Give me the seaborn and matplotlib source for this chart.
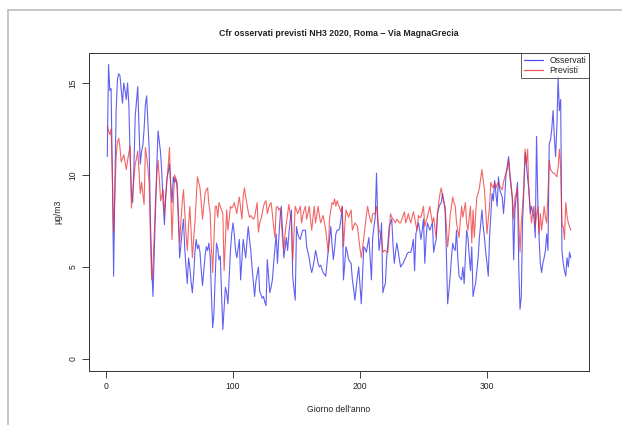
import numpy as np
import pandas as pd
import matplotlib
matplotlib.use("Agg")
import matplotlib.pyplot as plt
from matplotlib.lines import Line2D
import seaborn as sns

# ---- data ----
osservati = [
    11.0, 16.0, 14.6, 14.7, 10.0, 4.5, 9.5, 13.5, 15.2, 15.5,
    15.4, 14.6, 13.9, 15.0, 14.6, 14.1, 15.0, 13.8, 11.0, 9.0,
    8.5, 10.5, 13.2, 14.0, 14.8, 12.5, 10.6, 11.3, 11.6, 12.5,
    13.8, 14.3, 12.8, 11.4, 7.5, 5.0, 3.4, 5.8, 8.1, 10.5,
    12.4, 11.8, 11.2, 10.0, 8.5, 7.3, 8.8, 9.8, 10.2, 10.6,
    9.5, 8.5, 9.9, 9.6, 9.8, 9.3, 7.5, 5.5, 6.2, 7.0,
    7.6, 6.0, 5.0, 4.1, 5.5, 5.0, 4.2, 3.6, 4.5, 5.8,
    6.5, 6.0, 6.2, 5.8, 4.8, 4.0, 4.8, 5.6, 6.1, 5.9,
    6.3, 5.6, 3.5, 1.7, 2.5, 4.5, 6.3, 6.0, 5.4, 5.6,
    3.5, 1.6, 2.8, 3.9, 3.6, 3.0, 4.5, 5.9, 6.8, 7.4,
    6.8, 5.9, 5.5, 6.0, 6.5, 4.3, 5.4, 6.5, 6.0, 5.5,
    6.4, 7.2, 6.5, 5.9, 5.0, 4.2, 3.4, 4.2, 4.6, 5.0,
    3.7, 3.5, 3.3, 3.4, 3.1, 2.9, 5.4, 4.5, 3.6, 3.9,
    4.3, 5.2, 6.0, 6.8, 5.2, 6.5, 7.6, 8.3, 7.0, 5.5,
    6.0, 6.6, 5.9, 6.8, 7.5, 8.1, 4.5, 3.8, 3.2, 7.2,
    6.8, 6.6, 6.5, 6.8, 7.0, 7.0, 7.0, 6.1, 5.8, 5.5,
    5.0, 4.7, 5.0, 5.4, 5.9, 5.6, 5.2, 5.0, 5.1, 4.9,
    4.7, 4.6, 4.5, 5.2, 5.9, 6.5, 7.2, 6.2, 5.4, 6.0,
    6.8, 7.0, 7.0, 7.1, 7.6, 8.3, 4.3, 5.2, 6.1, 5.8,
    5.4, 5.3, 5.2, 4.3, 3.8, 3.2, 3.9, 4.5, 5.0, 4.0,
    3.0, 4.5, 6.1, 6.0, 5.8, 6.2, 6.6, 5.5, 4.3, 6.6,
    7.2, 7.7, 10.1, 7.5, 5.9, 6.5, 7.4, 3.6, 3.9, 4.1,
    5.5, 6.3, 7.2, 7.4, 7.6, 6.2, 5.2, 5.8, 6.3, 5.9,
    5.4, 5.0, 5.1, 5.2, 5.4, 5.5, 5.7, 5.8, 5.8, 5.8,
    6.1, 6.5, 4.8, 6.8, 7.1, 7.4, 7.0, 6.5, 7.0, 7.6,
    5.2, 6.5, 7.4, 7.2, 7.0, 7.2, 7.4, 5.8, 6.2, 6.5,
    7.9, 8.2, 8.4, 8.5, 9.0, 8.6, 8.1, 5.8, 3.0, 3.7,
    4.5, 5.5, 6.3, 6.0, 5.9, 7.0, 5.5, 4.5, 4.4, 4.3,
    5.0, 4.1, 5.5, 7.0, 6.6, 5.6, 4.8, 6.1, 3.4, 3.8,
    4.1, 4.8, 5.5, 6.6, 7.3, 8.1, 7.2, 6.6, 5.8, 5.2,
    4.5, 6.6, 7.8, 9.0, 8.6, 9.7, 9.0, 8.3, 9.9, 9.2,
    9.0, 8.8, 7.9, 8.8, 10.1, 10.5, 11.0, 10.1, 9.5, 8.6,
    5.4, 8.1, 8.8, 9.6, 5.0, 2.7, 3.4, 7.4, 9.2, 11.2,
    10.6, 9.8, 9.2, 7.9, 8.3, 8.0, 7.7, 6.6, 12.1, 8.6,
    6.6, 5.2, 4.7, 5.2, 5.5, 5.9, 6.8, 5.9, 11.7, 11.9,
    12.5, 13.5, 12.1, 11.0, 12.6, 15.3, 13.5, 14.1, 5.9, 5.2,
    4.8, 4.5, 5.5, 5.0, 5.8, 5.5,
]

previsti = [
    12.7, 12.4, 12.2, 12.5, 10.0, 6.9, 9.0, 11.0, 11.8, 12.0,
    11.5, 10.7, 10.9, 11.1, 10.7, 10.3, 10.8, 11.2, 11.6, 8.2,
    9.0, 9.8, 10.6, 10.9, 11.3, 10.2, 9.0, 9.6, 9.0, 8.4,
    11.5, 11.0, 10.4, 9.5, 6.5, 4.3, 5.0, 6.8, 8.6, 10.0,
    10.8, 9.8, 8.6, 8.9, 9.2, 7.9, 8.8, 9.7, 10.5, 11.5,
    9.0, 6.5, 8.5, 10.0, 9.8, 9.6, 8.0, 6.3, 7.5, 8.5,
    9.2, 8.0, 6.8, 5.9, 7.2, 8.3, 7.0, 5.5, 6.5, 7.4,
    8.7, 9.9, 9.6, 9.3, 8.5, 7.6, 8.3, 9.0, 9.2, 9.3,
    8.4, 8.0, 6.0, 4.7, 6.5, 8.3, 8.3, 7.7, 8.5, 8.3,
    8.1, 7.9, 4.8, 6.5, 8.1, 7.0, 7.6, 8.3, 8.2, 8.3,
    8.5, 8.2, 7.9, 8.4, 8.8, 8.2, 7.6, 8.8, 9.3, 8.8,
    8.4, 8.0, 7.7, 7.8, 7.7, 7.6, 7.7, 8.1, 8.5, 6.9,
    7.4, 7.6, 7.9, 8.3, 8.5, 8.6, 7.9, 8.2, 8.4, 8.5,
    7.9, 7.2, 6.6, 8.2, 8.3, 8.1, 8.2, 7.5, 6.6, 5.9,
    6.8, 7.4, 7.9, 8.4, 7.9, 7.4, 5.3, 6.8, 8.3, 8.1,
    7.9, 8.1, 8.3, 7.4, 7.8, 8.1, 8.3, 7.6, 7.9, 8.3,
    7.6, 7.0, 7.7, 8.3, 7.4, 7.8, 8.3, 7.8, 7.4, 7.6,
    7.8, 7.4, 7.0, 6.4, 5.8, 7.6, 8.1, 8.5, 8.4, 8.7,
    8.3, 8.6, 8.4, 8.2, 8.0, 8.3, 6.1, 7.2, 8.1, 7.9,
    7.7, 7.9, 8.1, 7.0, 7.2, 7.4, 7.3, 7.2, 6.6, 6.0,
    5.5, 6.0, 6.6, 7.2, 7.8, 8.3, 7.9, 7.6, 7.4, 7.9,
    7.9, 7.9, 8.3, 7.6, 7.0, 6.8, 6.6, 5.8, 5.9, 5.9,
    5.8, 5.8, 6.8, 7.9, 7.7, 7.6, 7.5, 7.4, 7.6, 7.5,
    7.4, 7.4, 7.6, 7.8, 8.0, 7.4, 7.6, 7.9, 7.6, 7.4,
    7.7, 8.0, 7.7, 7.3, 7.0, 7.8, 7.7, 7.7, 8.0, 8.3,
    7.2, 7.5, 7.7, 8.0, 8.3, 7.8, 7.4, 7.7, 7.1, 6.6,
    7.9, 8.5, 9.0, 9.3, 8.8, 8.5, 8.3, 7.2, 6.1, 6.8,
    7.8, 8.3, 8.8, 8.5, 8.3, 7.4, 7.0, 6.6, 7.5, 8.3,
    7.7, 8.1, 8.5, 7.4, 7.0, 7.7, 8.3, 6.3, 8.1, 6.6,
    7.8, 8.8, 9.0, 9.3, 9.8, 10.3, 9.7, 9.2, 8.1, 6.8,
    7.6, 8.3, 9.6, 9.4, 9.3, 9.6, 9.3, 9.5, 9.6, 9.4,
    9.3, 9.2, 9.6, 9.9, 10.1, 10.3, 10.8, 9.9, 9.3, 8.8,
    7.6, 8.8, 9.0, 9.3, 7.4, 5.8, 7.4, 8.3, 9.3, 11.4,
    10.6, 11.4, 9.0, 8.3, 7.4, 7.9, 8.3, 7.2, 7.8, 8.3,
    6.8, 7.9, 7.0, 7.6, 8.3, 7.7, 7.4, 9.0, 10.8, 10.3,
    10.2, 10.1, 10.1, 10.0, 9.9, 10.4, 11.4, 10.4, 7.2, 7.2,
    6.5, 8.5, 7.8, 7.4, 7.2, 7.0,
]

serie_nomi = ["Osservati", "Previsti"]
colori = ["#2222ee", "#ee2a2a"]
x_ticks = [0, 100, 200, 300]
y_ticks = [0, 5, 10, 15]

giorni = np.arange(1, len(osservati) + 1)
df = pd.DataFrame({
    "giorno": np.concatenate([giorni, giorni]),
    "valore": osservati + previsti,
    "serie": [serie_nomi[0]] * len(osservati) + [serie_nomi[1]] * len(previsti),
})

sns.set_style("white")
plt.rcParams["font.family"] = ["Liberation Sans", "DejaVu Sans"]

W, H = 622, 425
fig = plt.figure(figsize=(W / 100, H / 100), dpi=100)

# axes placement (pixel geometry of the R plot region)
px_day = 1.27
x0_px = 106.0
xlim = (-13.6, 380.6)
px_unit = 18.4
y0_px = 359.0
ylim = (-0.64, 16.64)
left = x0_px + xlim[0] * px_day
right = x0_px + xlim[1] * px_day
bottom = y0_px - ylim[0] * px_unit
top = y0_px - ylim[1] * px_unit
ax = fig.add_axes([left / W, 1 - bottom / H, (right - left) / W, (bottom - top) / H])

sns.lineplot(data=df, x="giorno", y="valore", hue="serie",
             palette=dict(zip(serie_nomi, colori)), hue_order=serie_nomi,
             linewidth=0.8, alpha=0.72, ax=ax, legend=False)

ax.set_xlim(*xlim)
ax.set_ylim(*ylim)
ax.set_xticks(x_ticks)
ax.set_yticks(y_ticks)
ax.set_xticklabels([str(t) for t in x_ticks])
ax.set_yticklabels([str(t) for t in y_ticks], rotation=90, va="center")
ax.tick_params(axis="both", direction="out", length=5, width=0.6,
               labelsize=6.2, colors="#222222", pad=3, left=True, bottom=True)
for s in ax.spines.values():
    s.set_visible(True)
    s.set_linewidth(0.7)
    s.set_color("#333333")
ax.set_xlabel("")
ax.set_ylabel("")

fig.text((left + right) / 2 / W, 1 - 33 / H,
         "Cfr osservati previsti NH3 2020, Roma \u2212 Via MagnaGrecia",
         ha="center", va="center", fontsize=6.3, fontweight="bold", color="#222222")
fig.text((left + right) / 2 / W, 1 - 410 / H, "Giorno dell'anno",
         ha="center", va="center", fontsize=6.2, color="#222222")
fig.text(58 / W, 1 - ((top + bottom) / 2) / H, "\u00b5g/m3", rotation=90,
         ha="center", va="center", fontsize=6.2, color="#222222")

handles = [Line2D([0], [0], color=c, lw=0.9, alpha=0.8) for c in colori]
leg = ax.legend(handles, serie_nomi, loc="upper right", fontsize=6.2,
                frameon=True, fancybox=False, borderpad=0.35,
                handlelength=2.2, handletextpad=0.8, labelspacing=0.1,
                borderaxespad=0)
leg.get_frame().set_edgecolor("#333333")
leg.get_frame().set_linewidth(0.7)

# screenshot frame lines
fig.add_artist(Line2D([8 / W, 8 / W], [0, 1 - 10 / H], transform=fig.transFigure,
                      color="#bdbdbd", lw=1.2))
fig.add_artist(Line2D([8 / W, 1], [1 - 10 / H, 1 - 10 / H], transform=fig.transFigure,
                      color="#bdbdbd", lw=1.2))

fig.savefig("out.png", dpi=100)
